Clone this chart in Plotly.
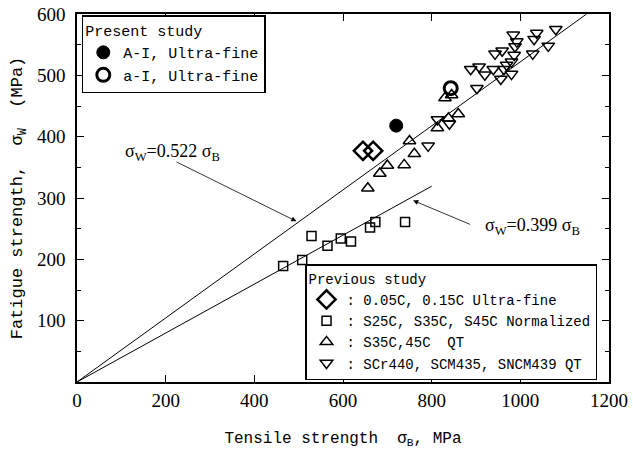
import plotly.graph_objects as go

# ---- data ----
present_filled_x = [720]
present_filled_y = [418]
present_open_x = [843]
present_open_y = [479]

diamond_x = [645, 668]
diamond_y = [377, 377]

square_x = [465, 508, 529, 565, 595, 618, 661, 673, 740]
square_y = [189, 199, 238, 222, 234, 229, 252, 261, 261]

tri_up_x = [656, 683, 700, 738, 750, 761, 813, 838, 860, 830, 845]
tri_up_y = [316, 340, 353, 354, 393, 372, 414, 430, 437, 463, 468]

tri_down_x = [984, 992, 988, 1037, 1031, 1080, 1063, 1028, 943, 959, 986, 980, 969,
              888, 907, 920, 939, 963, 980, 956, 902, 840, 813, 792]
tri_down_y = [566, 555, 547, 569, 559, 575, 548, 535, 535, 540, 533, 522, 517,
              510, 514, 501, 510, 510, 502, 494, 479, 421, 428, 385]

line1_x = [0, 1149]
line1_slope = 0.522
line2_x = [0, 800]
line2_slope = 0.399

x_ticks = [0, 200, 400, 600, 800, 1000, 1200]
y_ticks = [100, 200, 300, 400, 500, 600]

MONO = "Liberation Mono"
SERIF = "Liberation Serif"

fig = go.Figure()

fig.add_trace(go.Scatter(x=line1_x, y=[v * line1_slope for v in line1_x], mode="lines",
                         line=dict(color="black", width=1), showlegend=False, hoverinfo="skip"))
fig.add_trace(go.Scatter(x=line2_x, y=[v * line2_slope for v in line2_x], mode="lines",
                         line=dict(color="black", width=1), showlegend=False, hoverinfo="skip"))

fig.add_trace(go.Scatter(x=present_filled_x, y=present_filled_y, mode="markers",
                         name="A-I, Ultra-fine", legend="legend",
                         marker=dict(symbol="circle", size=13, color="black",
                                     line=dict(color="black", width=1))))
fig.add_trace(go.Scatter(x=present_open_x, y=present_open_y, mode="markers",
                         name="a-I, Ultra-fine", legend="legend",
                         marker=dict(symbol="circle-open", size=13, color="black",
                                     line=dict(color="black", width=3))))

fig.add_trace(go.Scatter(x=diamond_x, y=diamond_y, mode="markers",
                         name=": 0.05C, 0.15C Ultra-fine", legend="legend2",
                         marker=dict(symbol="diamond-open", size=14, color="black",
                                     line=dict(color="black", width=2.5))))
fig.add_trace(go.Scatter(x=square_x, y=square_y, mode="markers",
                         name=": S25C, S35C, S45C Normalized", legend="legend2",
                         marker=dict(symbol="square-open", size=9, color="black",
                                     line=dict(color="black", width=1.5))))
fig.add_trace(go.Scatter(x=tri_up_x, y=tri_up_y, mode="markers",
                         name=": S35C,45C  QT", legend="legend2",
                         marker=dict(symbol="triangle-up-open", size=11, color="black",
                                     line=dict(color="black", width=1.5))))
fig.add_trace(go.Scatter(x=tri_down_x, y=tri_down_y, mode="markers",
                         name=": SCr440, SCM435, SNCM439 QT", legend="legend2",
                         marker=dict(symbol="triangle-down-open", size=11, color="black",
                                     line=dict(color="black", width=1.5))))

fig.add_annotation(x=495, y=262, ax=221, ay=360, xref="x", yref="y", axref="x", ayref="y",
                   text="", showarrow=True, arrowhead=2, arrowsize=1.3, arrowwidth=0.8,
                   arrowcolor="black")
fig.add_annotation(x=216, y=374, xref="x", yref="y", showarrow=False,
                   text="σ<sub>W</sub>=0.522 σ<sub>B</sub>",
                   font=dict(family=SERIF, size=18, color="black"))
fig.add_annotation(x=758, y=296, ax=890, ay=256, xref="x", yref="y", axref="x", ayref="y",
                   text="", showarrow=True, arrowhead=2, arrowsize=1.3, arrowwidth=0.8,
                   arrowcolor="black")
fig.add_annotation(x=1027, y=253, xref="x", yref="y", showarrow=False,
                   text="σ<sub>W</sub>=0.399 σ<sub>B</sub>",
                   font=dict(family=SERIF, size=18, color="black"))

axis_common = dict(showline=True, linecolor="black", linewidth=1.5, mirror="ticks",
                   ticks="inside", ticklen=7, tickcolor="black", showgrid=False,
                   zeroline=False, tickfont=dict(family=SERIF, size=19, color="black"))

fig.update_xaxes(range=[0, 1200], tickvals=x_ticks, ticktext=[str(v) for v in x_ticks],
                 title=dict(text="Tensile strength  σ<sub>B</sub>, MPa",
                            font=dict(family=MONO, size=16, color="black"), standoff=22),
                 **axis_common)
fig.update_yaxes(range=[0, 600], tickvals=y_ticks, ticktext=[str(v) for v in y_ticks],
                 minor=dict(dtick=50, ticks="inside", ticklen=4, tickcolor="black"),
                 ticklabelstandoff=6,
                 title=dict(text="Fatigue strength,  σ<sub>W</sub>  (MPa)",
                            font=dict(family=MONO, size=17, color="black"), standoff=10),
                 **axis_common)

fig.update_layout(
    width=633, height=452,
    margin=dict(l=77, r=24, t=14, b=70, autoexpand=False),
    plot_bgcolor="white", paper_bgcolor="white",
    legend=dict(x=0.009, y=0.997, xanchor="left", yanchor="top",
                bordercolor="black", borderwidth=1.5, bgcolor="white",
                title=dict(text="Present study", font=dict(family=MONO, size=15, color="black")),
                font=dict(family=MONO, size=15, color="black"),
                itemwidth=30, tracegroupgap=0),
    legend2=dict(x=0.4286, y=0.005, xanchor="left", yanchor="bottom",
                 bordercolor="black", borderwidth=1.5, bgcolor="white",
                 title=dict(text="Previous study", font=dict(family=MONO, size=14, color="black")),
                 font=dict(family=MONO, size=14, color="black"),
                 itemwidth=30, tracegroupgap=0),
)

fig.write_html("out.html")
